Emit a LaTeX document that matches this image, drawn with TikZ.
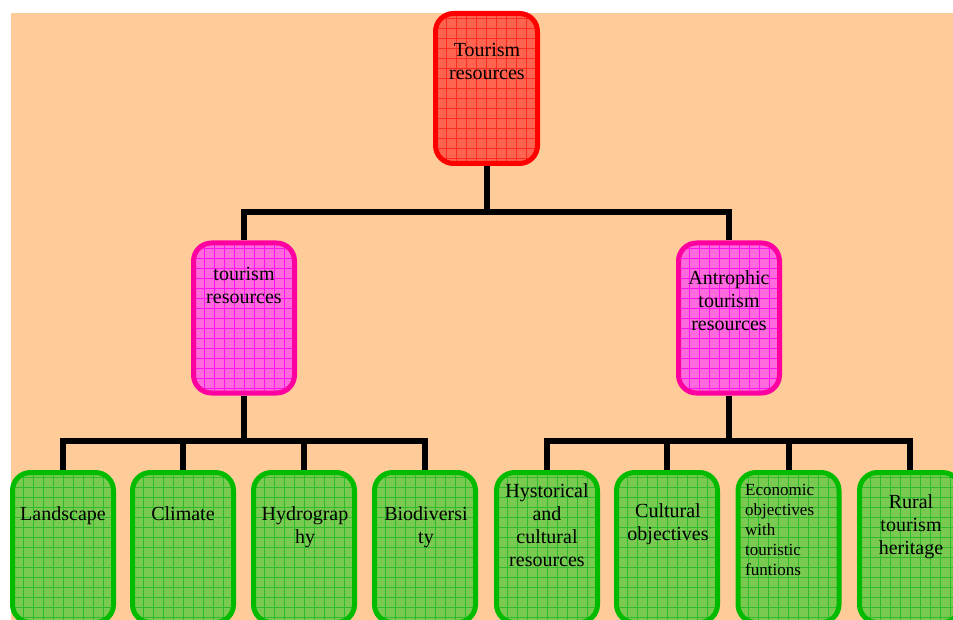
\documentclass[tikz,border=0pt]{standalone}
\usepackage{fontspec}
\setmainfont{Liberation Serif}
\definecolor{bgc}{HTML}{FFCC99}
\definecolor{redf}{HTML}{FF6450}
\definecolor{redd}{HTML}{FF0000}
\definecolor{redg}{HTML}{FF2A20}
\definecolor{pinkf}{HTML}{FF6ADC}
\definecolor{pinkd}{HTML}{FF00A0}
\definecolor{pinkg}{HTML}{FF10F0}
\definecolor{greenf}{HTML}{7ACA52}
\definecolor{greend}{HTML}{00BB00}
\definecolor{greeng}{HTML}{2CBC2C}
\tikzset{
  box/.style={draw, line width=5pt, rounded corners=18pt, minimum width=101pt, minimum height=150pt, inner sep=0pt},
  boxgrid/.style={path picture={\draw[line width=0.7pt,#1] (path picture bounding box.south west) grid[step=10pt] (path picture bounding box.north east);}},
  redbox/.style={box, fill=redf, draw=redd, boxgrid=redg, minimum width=102pt},
  pinkbox/.style={box, fill=pinkf, draw=pinkd, boxgrid=pinkg},
  greenbox/.style={box, fill=greenf, draw=greend, boxgrid=greeng},
  lbl/.style={anchor=north, align=center, inner sep=0pt, font=\fontsize{20}{23}\selectfont},
  slbl/.style={anchor=north west, align=left, inner sep=0pt, font=\fontsize{17}{20}\selectfont},
  conn/.style={line width=6pt, line join=miter, draw=black}
}
\begin{document}
\begin{tikzpicture}[x=1pt,y=-1pt]
\useasboundingbox (0,0) rectangle (953,620);
\fill[white] (0,0) rectangle (953,620);
\fill[bgc] (11,13) rectangle (953,620);
\begin{scope}
\clip (0,0) rectangle (953,620);
% boxes
\node[redbox] (top) at (486.5,88.5) {};
\node[pinkbox] (L) at (244,318) {};
\node[pinkbox] (R) at (729,318) {};
\node[greenbox] (g1) at (63,547.5) {};
\node[greenbox] (g2) at (183,547.5) {};
\node[greenbox] (g3) at (304,547.5) {};
\node[greenbox] (g4) at (425,547.5) {};
\node[greenbox] (g5) at (547,547.5) {};
\node[greenbox] (g6) at (667,547.5) {};
\node[greenbox] (g7) at (788.5,547.5) {};
\node[greenbox] (g8) at (910,547.5) {};
% connectors
\coordinate (y1) at (0,212);
\coordinate (y2) at (0,441);
\draw[conn] (top.south) -- (top.south |- y1);
\draw[conn] (L.north) |- (top.south |- y1) -| (R.north);
\draw[conn] (L.south) -- (L.south |- y2);
\draw[conn] (g1.north) |- (L.south |- y2) -| (g4.north);
\draw[conn] (g2.north) -- (g2.north |- y2);
\draw[conn] (g3.north) -- (g3.north |- y2);
\draw[conn] (R.south) -- (R.south |- y2);
\draw[conn] (g5.north) |- (R.south |- y2) -| (g8.north);
\draw[conn] (g6.north) -- (g6.north |- y2);
\draw[conn] (g7.north) -- (g7.north |- y2);
% labels
\node[lbl] (ttop) at (487,40) {\strut Tourism\\resources};
\node[lbl] (tL) at (244,264.5) {\strut tourism\\resources};
\node[lbl] (tR) at (729,268) {\strut Antrophic\\tourism\\resources};
\node[lbl] (t1) at (63,504) {\strut Landscape};
\node[lbl] (t2) at (183,504) {\strut Climate};
\node[lbl] (t3) at (305,504) {\strut Hydrograp\\hy};
\node[lbl] (t4) at (426,504) {\strut Biodiversi\\ty};
\node[lbl] (t5) at (547,481) {\strut Hystorical\\and\\cultural\\resources};
\node[lbl] (t6) at (668,501) {\strut Cultural\\objectives};
\node[slbl] (t7) at (745,481) {\strut Economic\\objectives\\with\\touristic\\funtions};
\node[lbl] (t8) at (911,492) {\strut Rural\\tourism\\heritage};
\end{scope}
\end{tikzpicture}
\end{document}
